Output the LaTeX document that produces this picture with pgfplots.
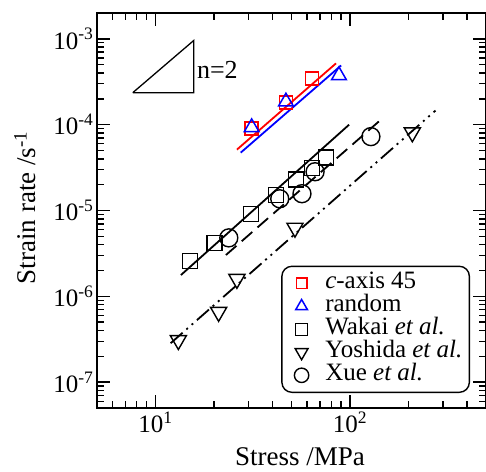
\documentclass[border=0pt]{standalone}
\usepackage{fontspec}
\setmainfont{Liberation Serif}
\usepackage{pgfplots}
\pgfplotsset{compat=1.18}
\pgfplotsset{
  mymark/.style={only marks,
    legend image code/.code={\path (-15pt,0pt) (20pt,0pt); \draw[##1, mark size=0.8*\pgfplotmarksize] plot coordinates {(0pt,0pt)};}},
}
\begin{document}
\begin{tikzpicture}
\begin{loglogaxis}[
  scale only axis, width=389pt, height=395pt,
  xmin=5, xmax=500, ymin=5e-8, ymax=2e-3,
  log basis x=10, log basis y=10,
  axis line style={line width=1.8pt},
  every tick/.style={black, line width=1.4pt},
  major tick length=13pt, minor tick length=7pt,
  tick label style={font=\fontsize{25}{30}\selectfont},
  xticklabel={\pgfmathtruncatemacro\e{round(\tick)}10\textsuperscript{\e}},
  yticklabel={\pgfmathtruncatemacro\e{round(\tick)}10\textsuperscript{\e}},
  xlabel={Stress /MPa},
  ylabel={Strain rate /s\textsuperscript{-1}},
  label style={font=\fontsize{27}{32}\selectfont},
  xlabel style={at={(axis description cs:0.522,-0.145)}, anchor=base},
  ylabel style={at={(axis description cs:-0.185,0.507)}, anchor=center, rotate=0},
  legend style={at={(axis description cs:0.959,0.038)}, anchor=south east,
    rounded corners=10pt, line width=1.4pt, draw=black,
    inner xsep=4pt, inner ysep=5.5pt, row sep=0pt,
    font=\fontsize{25}{28}\selectfont,
    nodes={text height=16pt, text depth=5pt, inner ysep=1pt, inner xsep=3pt}},
  legend cell align=left,
]
% fitted lines
\addplot[red, line width=1.8pt, forget plot] coordinates {(26.2,5.12e-5) (84.7,5.18e-4)};
\addplot[blue, line width=1.8pt, forget plot] coordinates {(27.4,4.72e-5) (90,4.9e-4)};
\addplot[black, line width=1.8pt, forget plot] coordinates {(13.5,1.77e-6) (98.9,1.0e-4)};
\addplot[black, line width=1.8pt, dash pattern=on 14pt off 7pt, forget plot] coordinates {(23.0,3.03e-6) (144.5,1.15e-4)};
\addplot[black, line width=1.8pt, dash pattern=on 16pt off 5pt on 2pt off 5pt on 2pt off 5pt, forget plot] coordinates {(11.95,2.84e-7) (275,1.46e-4)};
% slope triangle
\addplot[black, line width=1.3pt, line join=miter, forget plot] coordinates {(7.64,2.36e-4) (15.7,2.36e-4) (15.7,9.55e-4) (7.64,2.36e-4)};
\node[anchor=base west, inner sep=0pt, font=\fontsize{26}{30}\selectfont] at (axis cs:16.3,3.44e-4) {n=2};
% data
\addplot[mymark, red, mark=square, mark size=6.5pt, mark options={line width=1.5pt, fill=none}] coordinates {(31.2,9.0e-5) (46.8,1.81e-4) (63.7,3.46e-4)};
\addlegendentry{\textit{c}-axis 45}
\addplot[mymark, blue, mark=triangle, mark size=8.5pt, mark options={line width=1.5pt, fill=none}] coordinates {(31.2,9.3e-5) (46.8,1.85e-4) (87.7,3.75e-4)};
\addlegendentry{random}
\addplot[mymark, black, mark=square, mark size=7.5pt, mark options={line width=1.4pt, fill=none}] coordinates {(15.0,2.58e-6) (20.1,4.2e-6) (30.9,9.15e-6) (41.6,1.52e-5) (52.7,2.29e-5) (63.7,3.15e-5) (75.2,4.13e-5)};
\addlegendentry{Wakai \textit{et al.}}
\addplot[mymark, black, mark=triangle, mark size=9.3pt, mark options={line width=1.4pt, fill=none, rotate=180}] coordinates {(13.1,3.08e-7) (21.1,6.56e-7) (26.2,1.59e-6) (52.1,6.28e-6) (209,8.1e-5)};
\addlegendentry{Yoshida \textit{et al.}}
\addplot[mymark, black, mark=o, mark size=9pt, mark options={line width=1.4pt, fill=none}] coordinates {(23.8,4.8e-6) (43.5,1.37e-5) (56.6,1.57e-5) (66.1,2.83e-5) (128,7.26e-5)};
\addlegendentry{Xue \textit{et al.}}
\end{loglogaxis}
\pgfresetboundingbox
\path ([shift={(-97pt,-63pt)}]current axis.south west) rectangle ([shift={(0pt,13pt)}]current axis.north east);
\end{tikzpicture}
\end{document}
